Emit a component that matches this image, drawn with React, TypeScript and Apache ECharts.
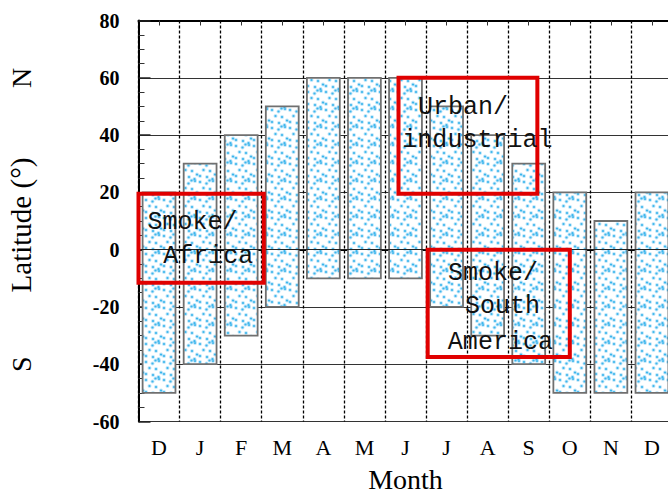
import React, { useEffect, useRef } from 'react';
import * as echarts from 'echarts';

// ---- data ----
const months = ['D', 'J', 'F', 'M', 'A', 'M', 'J', 'J', 'A', 'S', 'O', 'N', 'D'];
const latMin = [-50, -40, -30, -20, -10, -10, -10, -20, -30, -40, -50, -50, -50];
const latMax = [20, 30, 40, 50, 60, 60, 60, 50, 40, 30, 20, 10, 20];
const yMin = -60;
const yMax = 80;
const yStep = 20;

// annotation boxes (x in month index units, y in latitude)
const boxX0 = [-0.5, 5.83, 6.54];
const boxX1 = [2.55, 9.21, 10.0];
const boxTop = [19.5, 60, 0];
const boxBottom = [-11.6, 19.5, -37.5];

const noteText = ['Smoke/', 'Africa', 'Urban/', 'industrial', 'Smoke/', 'South', 'America'];
const noteX = [0.815, 1.2, 7.4, 7.75, 8.13, 8.36, 8.31];
const noteY = [9.6, -2.4, 49.8, 38.0, -8.35, -20, -32.3];

const sideText = ['N', 'S'];
const sideY = [60, -40];

function makePattern(): HTMLCanvasElement {
  const s = 18;
  const c = document.createElement('canvas');
  c.width = s;
  c.height = s;
  const ctx = c.getContext('2d')!;
  ctx.fillStyle = '#ffffff';
  ctx.fillRect(0, 0, s, s);
  const pts = [
    [2, 2], [8.5, 3.5], [15, 1], [5.5, 8], [12, 9], [17, 12.5],
    [2, 14], [9, 15], [14.5, 17], [11.5, 0.5],
  ];
  for (const [px, py] of pts) {
    for (const dx of [-s, 0, s]) {
      for (const dy of [-s, 0, s]) {
        ctx.fillStyle = 'rgba(130,205,245,0.5)';
        ctx.beginPath();
        ctx.arc(px + dx, py + dy, 2.0, 0, Math.PI * 2);
        ctx.fill();
        ctx.fillStyle = '#3cb6ec';
        ctx.beginPath();
        ctx.arc(px + dx, py + dy, 1.1, 0, Math.PI * 2);
        ctx.fill();
      }
    }
  }
  return c;
}

export default function App() {
  const ref = useRef<HTMLDivElement>(null);

  useEffect(() => {
    if (!ref.current) return;
    const chart = echarts.init(ref.current, undefined, { renderer: 'svg' });
    const pattern = { image: makePattern(), repeat: 'repeat' };

    const serif = 'Liberation Serif';
    chart.setOption({
      animation: false,
      backgroundColor: '#ffffff',
      grid: {
        left: 138.5,
        top: 20.5,
        width: 534,
        height: 401,
        containLabel: false,
        outerBoundsMode: 'none',
      },
      xAxis: [
        {
          type: 'category',
          data: months,
          position: 'bottom',
          boundaryGap: true,
          axisLine: { show: true, lineStyle: { color: '#000', width: 2 } },
          axisTick: { show: true, inside: true, alignWithLabel: true, length: 5, lineStyle: { color: '#333', width: 1 } },
          axisLabel: { show: true, interval: 0, fontFamily: serif, fontSize: 22, color: '#000', margin: 15 },
          splitLine: { show: true, interval: 0, lineStyle: { color: '#000', width: 1.3, type: [3, 2] } },
          name: 'Month',
          nameLocation: 'middle',
          nameGap: 44,
          nameTextStyle: { fontFamily: serif, fontSize: 28, color: '#000' },
        },
        {
          type: 'category',
          data: months,
          position: 'top',
          boundaryGap: true,
          axisLine: { show: true, lineStyle: { color: '#000', width: 2 } },
          axisTick: { show: true, inside: true, alignWithLabel: true, length: 5, lineStyle: { color: '#333', width: 1 } },
          axisLabel: { show: false },
          splitLine: { show: false },
        },
      ],
      yAxis: {
        type: 'value',
        min: yMin,
        max: yMax,
        interval: yStep,
        axisLine: { show: true, lineStyle: { color: '#000', width: 2 } },
        axisTick: { show: true, inside: true, length: 12, lineStyle: { color: '#222', width: 1.5 } },
        minorTick: { show: true, splitNumber: 4, length: 6, lineStyle: { color: '#333', width: 1 } },
        axisLabel: { fontFamily: serif, fontWeight: 'bold', fontSize: 20, color: '#000', margin: 19 },
        splitLine: { show: true, lineStyle: { color: '#333', width: 1 } },
      },
      series: [
        {
          type: 'custom',
          xAxisIndex: 0,
          yAxisIndex: 0,
          clip: false,
          data: months.map((_, i) => [i, latMin[i], latMax[i]]),
          encode: { x: 0, y: [1, 2] },
          renderItem: (_params: any, api: any) => {
            const i = api.value(0);
            const lo = api.value(1);
            const hi = api.value(2);
            const top = api.coord([i, hi]);
            const bot = api.coord([i, lo]);
            const w = api.size([1, 0])[0] * 0.8;
            return {
              type: 'rect',
              shape: { x: top[0] - w / 2, y: top[1], width: w, height: bot[1] - top[1] },
              style: { fill: pattern, stroke: '#707070', lineWidth: 1.8 },
            };
          },
          markLine: {
            silent: true,
            symbol: ['none', 'none'],
            label: { show: false },
            lineStyle: { color: '#222', width: 1, type: 'solid' },
            data: [{ yAxis: 0 }],
          },
        },
      ],
    });

    const toPx = (x: number, y: number) => {
      const a = chart.convertToPixel({ xAxisIndex: 0, yAxisIndex: 0 }, [0, y]) as number[];
      const b = chart.convertToPixel({ xAxisIndex: 0, yAxisIndex: 0 }, [1, y]) as number[];
      return [a[0] + (b[0] - a[0]) * x, a[1]];
    };

    const graphics: any[] = [];
    boxX0.forEach((x0, k) => {
      const p0 = toPx(x0, boxTop[k]);
      const p1 = toPx(boxX1[k], boxBottom[k]);
      graphics.push({
        type: 'rect',
        z: 100,
        shape: { x: p0[0], y: p0[1], width: p1[0] - p0[0], height: p1[1] - p0[1] },
        style: { fill: 'none', stroke: '#e00000', lineWidth: 4 },
      });
    });
    noteText.forEach((t, k) => {
      const p = toPx(noteX[k], noteY[k]);
      graphics.push({
        type: 'text',
        z: 101,
        x: p[0],
        y: p[1],
        style: {
          text: t,
          fontFamily: 'Liberation Mono',
          fontSize: 25,
          fill: '#111',
          textAlign: 'center',
          textVerticalAlign: 'middle',
          align: 'center',
          verticalAlign: 'middle',
        },
      });
    });
    sideText.forEach((t, k) => {
      const p = toPx(0, sideY[k]);
      graphics.push({
        type: 'text',
        x: 21,
        y: p[1],
        rotation: Math.PI / 2,
        style: {
          text: t,
          fontFamily: serif,
          fontSize: 28,
          fill: '#000',
          textAlign: 'center',
          textVerticalAlign: 'middle',
          align: 'center',
          verticalAlign: 'middle',
        },
      });
    });
    graphics.push({
      type: 'text',
      x: 21,
      y: 225,
      rotation: Math.PI / 2,
      style: {
        text: 'Latitude (°)',
        fontFamily: serif,
        fontSize: 29,
        fill: '#000',
        textAlign: 'center',
        textVerticalAlign: 'middle',
        align: 'center',
        verticalAlign: 'middle',
      },
    });
    chart.setOption({ graphic: graphics });

    return () => {
      chart.dispose();
    };
  }, []);

  return (
    <div
      ref={ref}
      style={{ position: 'absolute', left: 0, top: 0, width: 668, height: 498 }}
    />
  );
}
